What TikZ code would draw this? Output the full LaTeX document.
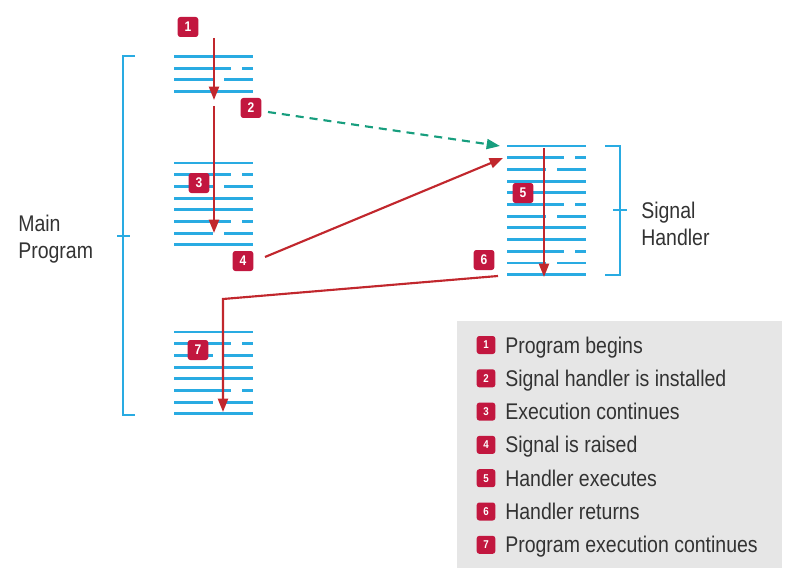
\documentclass[tikz,border=0pt]{standalone}
\usepackage{fontspec}
\setmainfont{Liberation Sans}[FakeStretch=0.86]
\usetikzlibrary{arrows.meta}

\definecolor{codeblue}{HTML}{29ABE2}
\definecolor{flowred}{HTML}{C1272D}
\definecolor{badgered}{HTML}{C2173F}
\definecolor{setgreen}{HTML}{179E7E}
\definecolor{legendgray}{HTML}{E6E6E6}
\definecolor{labelgray}{HTML}{333333}

\tikzset{
  codeline/.style={draw=codeblue,line width=2.2pt},
  bracket/.style={draw=codeblue,line width=1.7pt},
  flow/.style={draw=flowred,line width=1.6pt,
    -{Triangle[length=10pt,width=7.5pt]}},
  badge/.style={fill=badgered,rounded corners=2pt,inner sep=0pt,
    minimum width=15.5pt,minimum height=15pt,text=white,
    font=\bfseries\fontsize{10.5}{10.5}\selectfont},
  smallbadge/.style={badge,minimum width=14pt,minimum height=13.5pt,
    font=\bfseries\fontsize{8.5}{8.5}\selectfont},
  label/.style={text=labelgray,inner sep=0pt,
    font=\fontsize{17}{20}\selectfont}
}

% x, top y, number of four-line groups
\newcommand{\codelines}[3]{%
  \foreach \k in {1,...,#3} {
    \draw[codeline] (#1,{#2+46.8*(\k-1)}) -- ++(79,0);
    \draw[codeline] (#1,{#2+46.8*(\k-1)+11.7}) -- ++(57,0);
    \draw[codeline] ({#1+68},{#2+46.8*(\k-1)+11.7}) -- ++(11,0);
    \draw[codeline] (#1,{#2+46.8*(\k-1)+23.4}) -- ++(39,0);
    \draw[codeline] ({#1+50},{#2+46.8*(\k-1)+23.4}) -- ++(29,0);
    \draw[codeline] (#1,{#2+46.8*(\k-1)+35.1}) -- ++(79,0);
  }}

\begin{document}
\begin{tikzpicture}[x=0.75pt,y=-0.75pt]
\useasboundingbox (0,0) rectangle (804,585);

% code of the main program and of the handler
\codelines{174}{56.5}{1}
\codelines{174}{163}{2}
\codelines{174}{332}{2}
\codelines{507}{146}{3}

% brackets
\draw[bracket] (135,56) -- (123,56) -- (123,415) -- (135,415);
\draw[bracket] (117,236) -- (130,236);
\draw[bracket] (605,146) -- (620,146) -- (620,275) -- (605,275);
\draw[bracket] (613,210) -- (627,210);

\node (main) at (18,258) [label,anchor=base west,align=left] {Main\\Program};
\node (sig) at (641,245) [label,anchor=base west,align=left] {Signal\\Handler};

% flow of control
\coordinate (s1) at (214,38);
\coordinate (e1) at (214,100);
\coordinate (s3) at (214,106);
\coordinate (e3) at (214,233);
\coordinate (s2) at (268,112);
\coordinate (e2) at (500,146);
\coordinate (s4) at (265,257);
\coordinate (e4) at (503,158);
\coordinate (s5) at (544,148);
\coordinate (e5) at (544,277);
\coordinate (s6) at (498,276);
\coordinate (c6) at (223,299);
\coordinate (e6) at (223,412);

\draw[flow] (s1) -- (e1);
\draw[flow] (s3) -- (e3);
\draw[flow,draw=setgreen,dash pattern=on 6pt off 4.5pt,
  -{Triangle[length=10pt,width=7.5pt,fill=setgreen]}] (s2) -- (e2);
\draw[flow] (s4) -- (e4);
\draw[flow] (s5) -- (e5);
\draw[flow] (s6) -- (c6) -- (e6);

\node (b1) at (188,27) [badge] {1};
\node (b2) at (251,108) [badge] {2};
\node (b3) at (199,183) [badge] {3};
\node (b4) at (243,261) [badge] {4};
\node (b5) at (523,193) [badge] {5};
\node (b6) at (484,260) [badge] {6};
\node (b7) at (198,350) [badge] {7};

% legend
\fill[legendgray] (457,321) rectangle (782,568);
\foreach \n/\t in {1/Program begins,2/Signal handler is installed,
    3/Execution continues,4/Signal is raised,5/Handler executes,
    6/Handler returns,7/Program execution continues} {
  \node (l\n) at (486,{345+33.3*(\n-1)}) [smallbadge] {\n};
  \node (t\n) at (505,{353+33.3*(\n-1)}) [label,anchor=base west] {\t};
}
\end{tikzpicture}
\end{document}
